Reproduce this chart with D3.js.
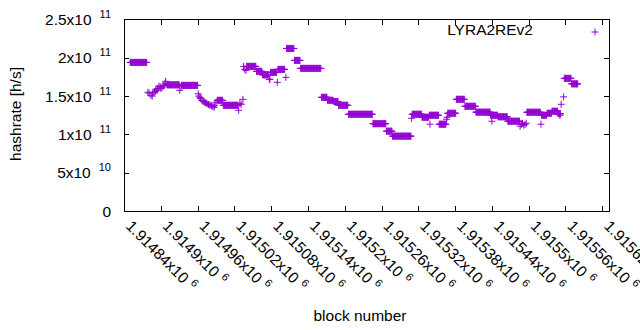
<!DOCTYPE html>
<html>
<head>
<meta charset="utf-8">
<script src="https://cdn.jsdelivr.net/npm/d3@7"></script>
<style>
  body { margin: 0; background: #fff; }
  svg { display: block; }
  text { font-family: "Liberation Sans", Arial, sans-serif; fill: #000; }
</style>
</head>
<body>
<div id="chart"></div>
<script>
var baseBlock = 1914800;

// block number of each sample, counted from baseBlock
var blockOffset = [
  50,51,52,53,54,55,56,57,58,59, 60,61,62,63,64,65,66,67,68,69, 70,71,72,73,74,75,76,77,
  79,81,84,86,87,89,91,92,94,95, 97,99,100,102,104,105,107,108,110,
  111,112,113,114,115,116,117,118,119,120, 121,122,123,124,125,126,127,128,129,130,
  131,133,
  134,135,136,137,138,139,140,141,142,143, 144,145,146,147,148,149,150,151,152,153, 154,155,156,157,158,159,160,
  161,162,164,165,167,169,170,172,173,175, 177,178,180,182,183,185,187,188,190,192,
  193,194,195,196,197,198,199,200,201,
  202,203,204,205,206,207,208,209,210,211, 212,213,214,215,216,217,218,219,220,221, 222,223,224,225,226,
  227,229,231,234,
  235,237,239,
  240,241,242,243,244,245,246,247,248,249, 250,251,252,253,254,255,
  256,257,258,259,260,261,262,263,264,265,
  266,267,268,269,270,271,272,273,274,275, 276,
  277,278,
  279,280,281,282,283,284,285,286,287,288, 289,
  290,
  291,292,293,294,295,296,297,298,299,300, 301,302,
  304,
  305,306,307,308,309,310,311,312,313,314, 315,316,317,
  318,319,320,321,322,323,324,325,326,327,
  328,329,330,331,332,333,334,335,336,337, 338,339,340,341,342,343,344,345,346,347, 348,349,350,351,352,353,354,355,356,357, 358,359,360,361,
  362,363,364,365,366,367,368,369,370,371,
  372,373,374,375,376,377,378,379,380,381,
  382,383,384,385,386,387,388,389,
  390,391,392,393,394,395,396,397,398,399, 400,401,402,403,404,405,
  406,407,408,409,410,411,412,413,414,415, 416,417,418,419,420,421,422,423,424,425, 426,427,428,429,430,431,432,433,434,435, 436,437,438,439,440,441,442,443,444,445,
  446,447,448,449,450,451,452,453,454,455, 456,457,458,459,460,461,462,463,464,465, 466,467,
  468,469,470,471,472,473,474,475,476,477,
  478,479,480,481,482,483,484,485,486,487, 488,489,490,491,492,493,494,495,496,497, 498,499,500,501,502,503,504,505,506,507, 508,
  509,
  510,511,512,513,514,515,516,517,518,519, 520,521,522,523,524,525,
  526,527,528,529,530,531,532,533,534,535, 536,537,
  538,539,540,541,542,543,544,545,546,547, 548,549,550,551,552,553,
  539,
  554,555,556,557,558,559,560,561,562,563, 564,565,
  566,567,
  568,569,570,571,572,573,574,575,576,577, 578,579,580,581,
  582,583,584,585,586,587,588,589,590,591, 592,593,594,595,
  596,597,598,599,600,601,602,603,604,605, 606,607,608,609,610,611,612,613,
  614,615,616,617,618,619,620,621,622,623, 624,625,626,627,628,629,630,631,632,633, 634,635,636,637,
  638,639,640,641,642,643,644,645,646,647, 648,649,
  640,
  650,651,652,653,654,655,656,657,658,659, 660,661,662,663,664,665,
  666,667,668,669,670,671,672,673,674,675, 676,677,678,679,680,681,682,683,684,685,
  686,688,690,692,694,696,
  697,698,699,700,701,702,703,704,705,706, 707,708,709,710,711,712,713,714,715,716, 717,718,719,
  720,
  721,722,723,724,725,726,727,728,729,
  730,731,732,733,734,735,736,737,
  738,739,740,741,742,743,744,745,746,747,
  748,749,750,751,752,
  751,753,757,
  758,759,760,761,762,763,764,765,766,767, 768,769,
  770,771,772,773,774,775,776,777,778,779, 780
];

// hashrate of each sample, in units of 1e9 h/s
var hashrateG = [
  194,194,194,194,194,194,194,194,194,194, 194,194,194,194,194,194,194,194,194,194, 194,194,194,194,194,194,194,194,
  155,154,151,150,154,155,156,159,157.5,160, 163,162,160,161,163,164,166.7,169.3,165,
  164.7,164.7,164.7,164.7,164.7,164.7,164.7,164.7,164.7,164.7, 164.7,164.7,164.7,164.7,164.7,164.7,164.7,164.7,164.7,164.7,
  157.5,163,
  164,164,164,164,164,164,164,164,164,164, 164,164,164,164,164,164,164,164,164,164, 164,164,164,164,164,164,164,
  153,150,148.4,147,144.5,143,143,142,141,140.6, 139.3,139,138,138,136.7,136.5,135.4,138,142,144.5,
  144.5,144.5,144.5,144.5,144.5,144.5,144.5,144.5,144.5,
  138,138,138,138,138,138,138,138,138,138, 138,138,138,138,138,138,138,138,138,138, 138,138,138,138,138,
  131.5,140.6,139.3,145.8,
  188.8,184.9,183.6,
  188.8,188.8,188.8,188.8,188.8,188.8,188.8,188.8,188.8,188.8, 188.8,188.8,188.8,188.8,188.8,188.8,
  182.3,182.3,182.3,182.3,182.3,182.3,182.3,182.3,182.3,182.3,
  177.8,177.8,177.8,177.8,177.8,177.8,177.8,177.8,177.8,177.8, 177.8,
  171.9,171.9,
  181,181,181,181,181,181,181,181,181,181, 181,
  168,
  184.9,184.9,184.9,184.9,184.9,184.9,184.9,184.9,184.9,184.9, 184.9,184.9,
  174.5,
  212.2,212.2,212.2,212.2,212.2,212.2,212.2,212.2,212.2,212.2, 212.2,212.2,212.2,
  196.6,196.6,196.6,196.6,196.6,196.6,196.6,196.6,196.6,196.6,
  186.2,186.2,186.2,186.2,186.2,186.2,186.2,186.2,186.2,186.2, 186.2,186.2,186.2,186.2,186.2,186.2,186.2,186.2,186.2,186.2, 186.2,186.2,186.2,186.2,186.2,186.2,186.2,186.2,186.2,186.2, 186.2,186.2,186.2,186.2,
  148.4,148.4,148.4,148.4,148.4,148.4,148.4,148.4,148.4,148.4,
  144.5,144.5,144.5,144.5,144.5,144.5,144.5,144.5,144.5,144.5,
  143,143,143,143,143,143,143,143,
  138,138,138,138,138,138,138,138,138,138, 138,138,138,138,138,138,
  126.3,126.3,126.3,126.3,126.3,126.3,126.3,126.3,126.3,126.3, 126.3,126.3,126.3,126.3,126.3,126.3,126.3,126.3,126.3,126.3, 126.3,126.3,126.3,126.3,126.3,126.3,126.3,126.3,126.3,126.3, 126.3,126.3,126.3,126.3,126.3,126.3,126.3,126.3,126.3,126.3,
  114,114,114,114,114,114,114,114,114,114, 114,114,114,114,114,114,114,114,114,114, 114,114,
  104.2,104.2,104.2,104.2,104.2,104.2,104.2,104.2,104.2,104.2,
  97.7,97.7,97.7,97.7,97.7,97.7,97.7,97.7,97.7,97.7, 97.7,97.7,97.7,97.7,97.7,97.7,97.7,97.7,97.7,97.7, 97.7,97.7,97.7,97.7,97.7,97.7,97.7,97.7,97.7,97.7, 97.7,
  121.1,
  126.3,126.3,126.3,126.3,126.3,126.3,126.3,126.3,126.3,126.3, 126.3,126.3,126.3,126.3,126.3,126.3,
  122.4,122.4,122.4,122.4,122.4,122.4,122.4,122.4,122.4,122.4, 122.4,122.4,
  125,125,125,125,125,125,125,125,125,125, 125,125,125,125,125,125,
  113.3,
  113.3,113.3,113.3,113.3,113.3,113.3,113.3,113.3,113.3,113.3, 113.3,113.3,
  119.8,122.4,
  127.6,127.6,127.6,127.6,127.6,127.6,127.6,127.6,127.6,127.6, 127.6,127.6,127.6,127.6,
  145.8,145.8,145.8,145.8,145.8,145.8,145.8,145.8,145.8,145.8, 145.8,145.8,145.8,145.8,
  136.7,136.7,136.7,136.7,136.7,136.7,136.7,136.7,136.7,136.7, 136.7,136.7,136.7,136.7,136.7,136.7,136.7,136.7,
  129,129,129,129,129,129,129,129,129,129, 129,129,129,129,129,129,129,129,129,129, 129,129,129,129,
  125,125,125,125,125,125,125,125,125,125, 125,125,
  117.2,
  123,123,123,123,123,123,123,123,123,123, 123,123,123,123,123,123,
  117.2,117.2,117.2,117.2,117.2,117.2,117.2,117.2,117.2,117.2, 117.2,117.2,117.2,117.2,117.2,117.2,117.2,117.2,117.2,117.2,
  110.7,113,114.6,112,113,114.6,
  128.9,128.9,128.9,128.9,128.9,128.9,128.9,128.9,128.9,128.9, 128.9,128.9,128.9,128.9,128.9,128.9,128.9,128.9,128.9,128.9, 128.9,128.9,128.9,
  113.3,
  125,125,125,125,125,125,125,125,125,
  127.6,127.6,127.6,127.6,127.6,127.6,127.6,127.6,
  130.2,130.2,130.2,130.2,130.2,130.2,130.2,130.2,130.2,130.2,
  127,127,127,127,127,
  125,139.3,149,
  173.2,173.2,173.2,173.2,173.2,173.2,173.2,173.2,173.2,173.2, 173.2,173.2,
  166,166,166,166,166,166,166,166,166,166, 166
];

var seriesName = "LYRA2REv2";

var xTicks = [1914840,1914900,1914960,1915020,1915080,1915140,1915200,1915260,1915320,1915380,1915440,1915500,1915560,1915620];
var xTickMant = ["1.91484x10","1.9149x10","1.91496x10","1.91502x10","1.91508x10","1.91514x10","1.9152x10",
                 "1.91526x10","1.91532x10","1.91538x10","1.91544x10","1.9155x10","1.91556x10","1.91562x10"];
var xTickExp = "6";

var yTicks = [0, 5e10, 1e11, 1.5e11, 2e11, 2.5e11];
var yTickMant = ["0","5x10","1x10","1.5x10","2x10","2.5x10"];
var yTickExp = ["","10","11","11","11","11"];

var width = 640, height = 330;
var plotL = 124, plotR = 609, plotT = 19.5, plotB = 211;
var color = "#9400d3";
var fontSize = "15.5px", supSize = "11px";

var data = blockOffset.map(function(o, i) { return { block: baseBlock + o, rate: hashrateG[i] * 1e9 }; });

var svg = d3.select("#chart").append("svg")
    .attr("width", width)
    .attr("height", height);

var x = d3.scaleLinear().domain([1914840, 1915631]).range([plotL, plotR]);
var y = d3.scaleLinear().domain([0, 2.5e11]).range([plotB, plotT]);

// tick marks (inward, mirrored on all four sides)
function tickLines(axis, pos) {
    var g = svg.append("g").attr("transform", pos).call(axis);
    g.select(".domain").remove();
    g.selectAll(".tick line").attr("stroke", "#000").attr("shape-rendering", "crispEdges");
    g.selectAll(".tick text").remove();
}
tickLines(d3.axisBottom(x).tickValues(xTicks.slice(1)).tickSize(-5).tickFormat(""), "translate(0," + plotB + ")");
tickLines(d3.axisTop(x).tickValues(xTicks.slice(1)).tickSize(-5).tickFormat(""), "translate(0," + plotT + ")");
tickLines(d3.axisLeft(y).tickValues(yTicks.slice(1, -1)).tickSize(-5).tickFormat(""), "translate(" + plotL + ",0)");
tickLines(d3.axisRight(y).tickValues(yTicks.slice(1, -1)).tickSize(-5).tickFormat(""), "translate(" + plotR + ",0)");

// border
svg.append("rect")
    .attr("x", plotL).attr("y", plotT)
    .attr("width", plotR - plotL).attr("height", plotB - plotT)
    .attr("fill", "none").attr("stroke", "#000")
    .attr("shape-rendering", "crispEdges");

// y tick labels
yTicks.forEach(function(v, i) {
    var t = svg.append("text")
        .attr("x", 111).attr("y", y(v) + 5.5)
        .attr("text-anchor", "end")
        .style("font-size", fontSize);
    t.append("tspan").text(yTickMant[i]);
    if (yTickExp[i]) {
        t.append("tspan").attr("dx", 8).attr("dy", -7).style("font-size", supSize).text(yTickExp[i]);
    }
});

// x tick labels, rotated
xTicks.forEach(function(v, i) {
    var px = x(v) + 1, py = 227;
    var t = svg.append("text")
        .attr("transform", "translate(" + px + "," + py + ") rotate(45)")
        .style("font-size", fontSize);
    t.append("tspan").text(xTickMant[i]);
    t.append("tspan").attr("dx", 5).attr("dy", -6).style("font-size", supSize).text(xTickExp);
});

// axis titles
svg.append("text")
    .attr("x", 360).attr("y", 321)
    .attr("text-anchor", "middle")
    .style("font-size", fontSize)
    .text("block number");

svg.append("text")
    .attr("transform", "translate(21,114) rotate(-90)")
    .attr("text-anchor", "middle")
    .style("font-size", fontSize)
    .text("hashrate [h/s]");

// points drawn as plus signs
var plus = "M-3.5,0H3.5M0,-3.5V3.5";
svg.append("g")
    .selectAll("path")
    .data(data)
    .enter()
    .append("path")
    .attr("transform", function(d) { return "translate(" + x(d.block) + "," + y(d.rate) + ")"; })
    .attr("d", plus)
    .attr("stroke", color)
    .attr("stroke-width", 1)
    .attr("fill", "none");

// key
svg.append("text")
    .attr("x", 533).attr("y", 35)
    .attr("text-anchor", "end")
    .style("font-size", fontSize)
    .text(seriesName);
svg.append("path")
    .attr("transform", "translate(595,32)")
    .attr("d", plus)
    .attr("stroke", color)
    .attr("fill", "none");
</script>
</body>
</html>
